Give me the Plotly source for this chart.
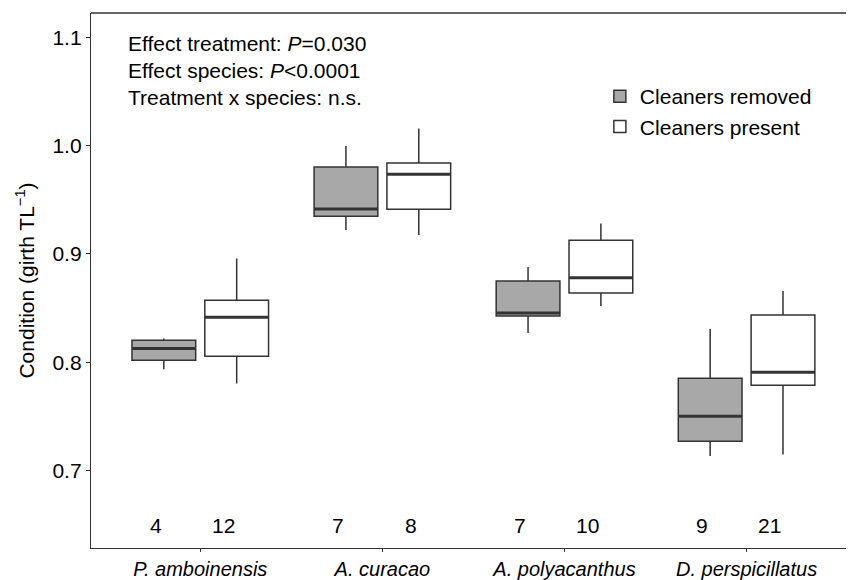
import plotly.graph_objects as go

species = ["P. amboinensis", "A. curacao", "A. polyacanthus", "D. perspicillatus"]
treatments = ["Cleaners removed", "Cleaners present"]

# Box statistics
removed_low = [0.7935, 0.9221, 0.8270, 0.7135]
removed_q1 = [0.8018, 0.9348, 0.8427, 0.7270]
removed_med = [0.8126, 0.9415, 0.8455, 0.7501]
removed_q3 = [0.8203, 0.9803, 0.8750, 0.7852]
removed_high = [0.8219, 0.9997, 0.8880, 0.8307]

present_low = [0.7803, 0.9175, 0.8520, 0.7148]
present_q1 = [0.8055, 0.9412, 0.8640, 0.7787]
present_med = [0.8415, 0.9735, 0.8780, 0.7907]
present_q3 = [0.8572, 0.9840, 0.9126, 0.8437]
present_high = [0.8957, 1.0157, 0.9280, 0.8658]

n_removed = [4, 7, 7, 9]
n_present = [12, 8, 10, 21]

stats_text = [
    "Effect treatment: <i>P</i>=0.030",
    "Effect species: <i>P</i><0.0001",
    "Treatment x species: n.s.",
]

y_ticks = [0.7, 0.8, 0.9, 1.0, 1.1]

LINE = "#333333"
GRAY = "#A8A8A8"
FONT = "Liberation Sans, Arial, sans-serif"
FS = 21

BOXGAP = 0.2
GROUPGAP = 0.125
offset = (1 - BOXGAP) / 4          # centre offset of each box in a group
halfw = 0.5 * (1 - BOXGAP) * (1 - GROUPGAP) / 2  # half box width

xpos = list(range(len(species)))

fig = go.Figure()
groups = [
    (treatments[0], GRAY, removed_low, removed_q1, removed_med, removed_q3, removed_high, n_removed, -offset),
    (treatments[1], "white", present_low, present_q1, present_med, present_q3, present_high, n_present, offset),
]
for name, fill, lo, q1, md, q3, hi, ns, off in groups:
    fig.add_trace(go.Box(
        name=name, x=xpos, lowerfence=lo, q1=q1, median=md, q3=q3, upperfence=hi,
        fillcolor=fill, line=dict(color=LINE, width=1.5), whiskerwidth=0,
        boxpoints=False, hoverinfo="skip",
    ))

# thicker median lines
for name, fill, lo, q1, md, q3, hi, ns, off in groups:
    xs, ys = [], []
    for i, m in zip(xpos, md):
        xs += [i + off - halfw, i + off + halfw, None]
        ys += [m, m, None]
    fig.add_trace(go.Scatter(x=xs, y=ys, mode="lines", line=dict(color=LINE, width=3),
                             showlegend=False, hoverinfo="skip"))

annotations = []
for name, fill, lo, q1, md, q3, hi, ns, off in groups:
    for i, n in zip(xpos, ns):
        annotations.append(dict(x=i + off, y=0.6495, xref="x", yref="y", text=str(n),
                                showarrow=False, xanchor="right", yanchor="middle",
                                font=dict(size=FS, color="black", family=FONT)))

line_y = [0.9428, 0.8916, 0.8419]
for t, yy in zip(stats_text, line_y):
    annotations.append(dict(x=0.046, y=yy, xref="paper", yref="paper", text=t,
                            showarrow=False, xanchor="left", yanchor="middle",
                            font=dict(size=FS, color="black", family=FONT)))

fig.update_layout(
    width=848, height=580,
    margin=dict(l=91, r=2, t=13, b=32, autoexpand=False),
    plot_bgcolor="white", paper_bgcolor="white",
    boxmode="group", boxgap=BOXGAP, boxgroupgap=GROUPGAP,
    font=dict(family=FONT, size=FS, color="black"),
    showlegend=True,
    legend=dict(x=0.674, y=0.882, xanchor="left", yanchor="top",
                bgcolor="rgba(0,0,0,0)", font=dict(size=FS, family=FONT, color="black"),
                tracegroupgap=0),
    annotations=annotations,
    shapes=[dict(type="line", xref="paper", yref="paper", x0=0, x1=1, y0=1, y1=1,
                 line=dict(color=LINE, width=1.3))],
    xaxis=dict(range=[-0.6, 3.546], tickvals=xpos, automargin=False,
               ticktext=["<i>%s</i>" % s for s in species],
               showline=True, linecolor=LINE, linewidth=1.3,
               ticks="outside", ticklen=3, tickwidth=1.3, tickcolor=LINE,
               showgrid=False, zeroline=False,
               tickfont=dict(size=20, color="black", family=FONT)),
    yaxis=dict(range=[0.6285, 1.1224], tickvals=y_ticks, tickformat=".1f", automargin=False,
               showline=True, linecolor=LINE, linewidth=1.3,
               ticks="outside", ticklen=4, tickwidth=1.3, tickcolor=LINE,
               showgrid=False, zeroline=False,
               title=dict(text="Condition (girth TL<sup>−1</sup>)", standoff=12,
                          font=dict(size=FS, color="black", family=FONT)),
               tickfont=dict(size=FS, color="black", family=FONT)),
)

fig.write_html("out.html")
